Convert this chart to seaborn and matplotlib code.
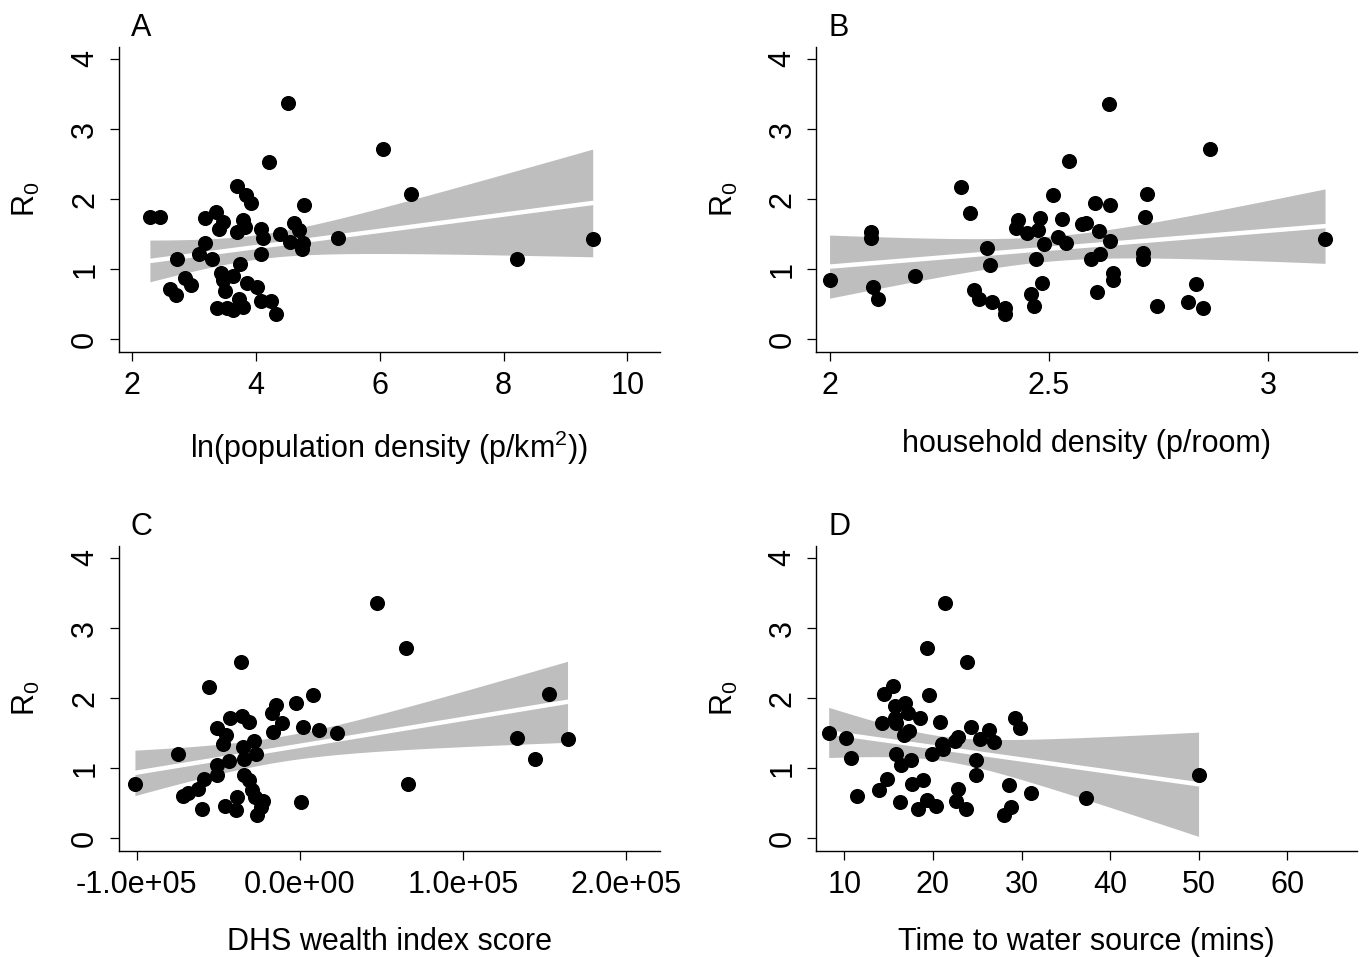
#!/usr/bin/env python3
"""R0 against four district covariates, 2x2 scatter + linear fit with 95% CI."""

import numpy as np
import matplotlib.pyplot as plt
import seaborn as sns

sns.set_style("ticks")
plt.rcParams['font.family'] = ['Liberation Sans', 'DejaVu Sans']
plt.rcParams['mathtext.default'] = 'regular'
plt.rcParams['font.size'] = 22
for key in ['text.color', 'axes.labelcolor', 'xtick.color', 'ytick.color', 'axes.edgecolor']:
    plt.rcParams[key] = 'black'

# Panel A: ln(population density)
popdens_x = [4.52, 6.06, 4.21, 6.51, 3.69, 3.84, 3.93, 4.78, 2.29, 2.46, 3.18, 3.35, 3.47,
             3.41, 3.79, 3.70, 3.82, 4.09, 4.12, 4.39, 4.62, 4.70, 4.55, 4.76, 4.74, 5.33,
             3.18, 3.08, 3.30, 2.72, 4.09, 3.74, 3.44, 3.63, 3.47, 2.85, 2.95, 2.61, 2.71,
             3.50, 3.85, 4.02, 3.73, 4.09, 4.24, 4.32, 3.37, 3.53, 3.63, 3.80, 9.44, 8.21]
popdens_r0 = [3.37, 2.72, 2.53, 2.07, 2.19, 2.06, 1.94, 1.91, 1.74, 1.75, 1.73, 1.82, 1.68,
              1.58, 1.70, 1.53, 1.60, 1.57, 1.44, 1.50, 1.66, 1.56, 1.39, 1.37, 1.29, 1.45,
              1.38, 1.22, 1.15, 1.14, 1.22, 1.07, 0.95, 0.91, 0.84, 0.87, 0.77, 0.72, 0.63,
              0.69, 0.80, 0.74, 0.58, 0.55, 0.55, 0.36, 0.45, 0.45, 0.42, 0.46, 1.43, 1.15]

# Panel B: household density
hhdens_x = [2.00, 2.095, 2.095, 2.10, 2.11, 2.196, 2.30, 2.32, 2.36, 2.365, 2.33, 2.34,
            2.37, 2.40, 2.40, 2.43, 2.425, 2.45, 2.48, 2.476, 2.49, 2.47, 2.485, 2.46,
            2.466, 2.51, 2.546, 2.53, 2.52, 2.54, 2.575, 2.586, 2.638, 2.868, 2.605, 2.64,
            2.725, 2.72, 2.615, 2.64, 2.616, 2.597, 2.715, 2.715, 2.647, 2.647, 2.61,
            2.835, 2.817, 2.852, 2.747, 3.13]
hhdens_r0 = [0.84, 1.53, 1.44, 0.74, 0.57, 0.91, 2.18, 1.80, 1.30, 1.06, 0.71, 0.58,
             0.53, 0.45, 0.36, 1.70, 1.59, 1.51, 1.73, 1.56, 1.36, 1.14, 0.80, 0.65,
             0.47, 2.06, 2.54, 1.72, 1.46, 1.38, 1.64, 1.66, 3.36, 2.72, 1.94, 1.91,
             2.07, 1.74, 1.55, 1.40, 1.22, 1.14, 1.23, 1.15, 0.95, 0.85, 0.67,
             0.79, 0.53, 0.45, 0.47, 1.43]

# Panel C: DHS wealth index score
wealth_x = [0.47e5, 0.65e5, -0.363e5, -0.557e5, 0.081e5, -0.024e5, -0.143e5, -0.173e5,
            -0.429e5, -0.357e5, -0.312e5, -0.108e5, -0.163e5, 0.02e5, 0.116e5, 0.23e5,
            -0.506e5, -0.453e5, -0.47e5, -0.745e5, -0.347e5, -0.28e5, -0.271e5, -0.343e5,
            -0.435e5, -0.506e5, -0.51e5, -0.588e5, -0.626e5, -0.684e5, -0.718e5, -1.01e5,
            -0.343e5, -0.31e5, -0.29e5, -0.276e5, -0.225e5, -0.235e5, -0.265e5, -0.384e5,
            -0.388e5, -0.459e5, -0.602e5, 0.01e5, 0.663e5, 1.527e5, 1.33e5, 1.64e5, 1.44e5]
wealth_r0 = [3.35, 2.71, 2.52, 2.16, 2.05, 1.93, 1.90, 1.79,
             1.72, 1.74, 1.66, 1.65, 1.52, 1.59, 1.54, 1.50,
             1.58, 1.47, 1.34, 1.20, 1.30, 1.39, 1.20, 1.13,
             1.11, 1.05, 0.91, 0.84, 0.71, 0.65, 0.60, 0.77,
             0.91, 0.83, 0.69, 0.59, 0.53, 0.44, 0.34, 0.59,
             0.41, 0.46, 0.42, 0.52, 0.77, 2.06, 1.43, 1.41, 1.13]

# Panel D: time to water source (mins)
water_x = [21.31, 19.31, 23.83, 15.47, 14.52, 19.50, 15.66, 16.87, 17.16, 18.48, 15.66,
           14.26, 15.85, 20.75, 17.28, 16.71, 24.25, 26.32, 29.23, 29.80, 25.35, 26.89,
           22.82, 22.44, 21.05, 21.12, 19.92, 24.90, 8.22, 10.19, 10.76, 15.77, 17.54,
           16.41, 24.82, 14.83, 18.86, 17.66, 13.85, 11.43, 28.55, 31.12, 22.82, 16.30,
           19.31, 20.37, 18.29, 22.64, 23.77, 28.86, 28.02, 37.26, 50.0]
water_r0 = [3.35, 2.71, 2.52, 2.17, 2.06, 2.05, 1.89, 1.93, 1.79, 1.72, 1.72,
            1.64, 1.64, 1.66, 1.53, 1.47, 1.59, 1.55, 1.72, 1.58, 1.41, 1.37,
            1.45, 1.39, 1.35, 1.28, 1.21, 1.12, 1.50, 1.43, 1.14, 1.20, 1.12,
            1.04, 0.91, 0.84, 0.83, 0.77, 0.69, 0.61, 0.76, 0.65, 0.71, 0.52,
            0.55, 0.46, 0.42, 0.53, 0.42, 0.45, 0.34, 0.57, 0.90]

panels = [
    ('A', popdens_x, popdens_r0, r'ln(population density (p/km$^{2}$))',
     [2, 4, 6, 8, 10], ['2', '4', '6', '8', '10'], (1.79, 10.52)),
    ('B', hhdens_x, hhdens_r0, 'household density (p/room)',
     [2, 2.5, 3], ['2', '2.5', '3'], (1.97, 3.203)),
    ('C', wealth_x, wealth_r0, 'DHS wealth index score',
     [-1e5, 0, 1e5, 2e5], ['-1.0e+05', '0.0e+00', '1.0e+05', '2.0e+05'], (-1.108e5, 2.204e5)),
    ('D', water_x, water_r0, 'Time to water source (mins)',
     [10, 20, 30, 40, 50, 60], ['10', '20', '30', '40', '50', '60'], (6.83, 67.9)),
]

band_grey = '#bebebe'


def ols_band(x, y, grid):
    """Analytic 95% CI of the fitted mean (like Stata lfitci)."""
    n = len(x)
    b1, b0 = np.polyfit(x, y, 1)
    resid = y - (b0 + b1 * x)
    df = n - 2
    s = np.sqrt(np.sum(resid ** 2) / df)
    sxx = np.sum((x - x.mean()) ** 2)
    t = 1.96 + 2.5 / df  # close enough to t(0.975, df) for df ~ 50
    yhat = b0 + b1 * grid
    half = t * s * np.sqrt(1 / n + (grid - x.mean()) ** 2 / sxx)
    return yhat - half, yhat + half


fig, axes = plt.subplots(2, 2, figsize=(13.64, 9.57), dpi=100)
plt.subplots_adjust(left=0.0872, right=0.9949, top=0.9509, bottom=0.1108,
                    wspace=0.29, hspace=0.636)

for ax, (letter, x, y, xlabel, xticks, xticklabels, xlim) in zip(axes.flat, panels):
    x = np.array(x)
    y = np.array(y)
    grid = np.linspace(x.min(), x.max(), 200)
    lo, hi = ols_band(x, y, grid)
    ax.fill_between(grid, lo, hi, color=band_grey, linewidth=0, zorder=1)
    sns.regplot(x=x, y=y, ax=ax, scatter=False, ci=None, color='white',
                line_kws={'lw': 3.2, 'zorder': 2})
    sns.scatterplot(x=x, y=y, ax=ax, color='black', s=118, linewidth=0, zorder=3)

    ax.set_xlim(*xlim)
    ax.set_ylim(-0.18, 4.17)
    ax.set_xticks(xticks)
    ax.set_xticklabels(xticklabels)
    ax.set_yticks([0, 1, 2, 3, 4])
    ax.set_yticklabels(['0', '1', '2', '3', '4'], rotation=90, va='center')
    ax.tick_params(axis='both', length=6.5, width=0.9, labelsize=22, pad=7)
    ax.tick_params(axis='x', pad=7)
    for side in ['top', 'right']:
        ax.spines[side].set_visible(False)
    for side in ['left', 'bottom']:
        ax.spines[side].set_linewidth(1.0)
    ax.set_xlabel(xlabel, fontsize=22, labelpad=20)
    ax.set_ylabel('R$_{0}$', fontsize=22, labelpad=20)
    ax.text(0.022, 1.036, letter, transform=ax.transAxes, fontsize=22,
            ha='left', va='baseline')

plt.savefig('out.png', dpi=100)
